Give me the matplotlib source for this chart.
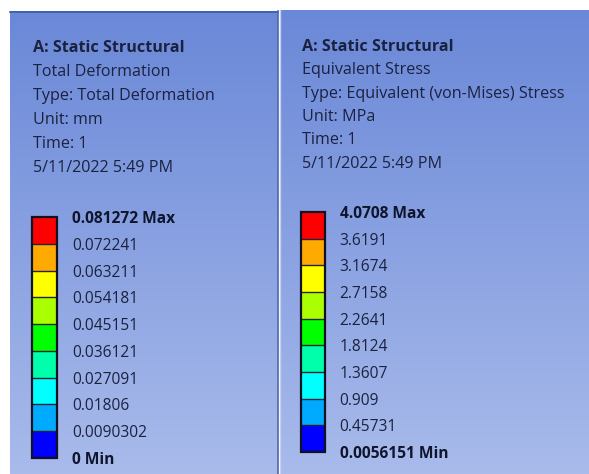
import matplotlib
matplotlib.use("Agg")
import matplotlib.pyplot as plt
from matplotlib.colors import ListedColormap, BoundaryNorm, LinearSegmentedColormap
from matplotlib.cm import ScalarMappable
import numpy as np

plt.rcParams['font.family'] = ['Open Sans', 'DejaVu Sans']

W, H = 589, 474

# header lines for each result panel
deform_header = ["A: Static Structural", "Total Deformation", "Type: Total Deformation",
                 "Unit: mm", "Time: 1", "5/11/2022 5:49 PM"]
stress_header = ["A: Static Structural", "Equivalent Stress",
                 "Type: Equivalent (von-Mises) Stress", "Unit: MPa", "Time: 1",
                 "5/11/2022 5:49 PM"]

# contour levels, min to max
deform_levels = [0, 0.0090302, 0.01806, 0.027091, 0.036121, 0.045151,
                 0.054181, 0.063211, 0.072241, 0.081272]
deform_labels = ["0 Min", "0.0090302", "0.01806", "0.027091", "0.036121", "0.045151",
                 "0.054181", "0.063211", "0.072241", "0.081272 Max"]
stress_levels = [0.0056151, 0.45731, 0.909, 1.3607, 1.8124, 2.2641,
                 2.7158, 3.1674, 3.6191, 4.0708]
stress_labels = ["0.0056151 Min", "0.45731", "0.909", "1.3607", "1.8124", "2.2641",
                 "2.7158", "3.1674", "3.6191", "4.0708 Max"]

# ansys legend colours, low band to high band
band_colors = ["#0000ff", "#00aaff", "#00ffff", "#00ffaa", "#00ff00",
               "#aaff00", "#ffff00", "#ffaa00", "#ff0000"]

text_color = "#1b2240"

fig = plt.figure(figsize=(W / 100, H / 100), dpi=100)
fig.patch.set_facecolor("white")

bg = fig.add_axes([0, 0, 1, 1])
bg.set_xlim(0, W)
bg.set_ylim(H, 0)
bg.axis("off")

grad = LinearSegmentedColormap.from_list("bg", ["#6a88d8", "#a9bbeb"])
ramp = np.linspace(0, 1, 256).reshape(-1, 1)
bg.imshow(ramp, cmap=grad, aspect="auto", extent=(10, 278, H, 11), zorder=0)
bg.imshow(ramp, cmap=grad, aspect="auto", extent=(281, W, H, 10), zorder=0)
bg.plot([10, 278], [11.5, 11.5], color="#3d5aa8", lw=1.2, zorder=1)
bg.plot([278, 278], [11, H], color="#4f68ad", lw=1.2, zorder=1)
bg.plot([280, 280], [10, H], color="#c3cff2", lw=1.0, zorder=1)


def header(x, y0, step, lines):
    for i, s in enumerate(lines):
        bg.text(x, y0 + i * step, s, fontsize=11.6, color=text_color,
                fontweight="bold" if i == 0 else "normal", va="center", ha="left")


header(33, 48, 24, deform_header)
header(302, 47, 23.3, stress_header)


def legend(rect, levels, labels, pad):
    cax = fig.add_axes(rect)
    norm = BoundaryNorm(levels, len(band_colors))
    sm = ScalarMappable(norm=norm, cmap=ListedColormap(band_colors))
    cb = fig.colorbar(sm, cax=cax, boundaries=levels, ticks=levels,
                      drawedges=True, spacing="uniform")
    cb.outline.set_linewidth(1.6)
    cb.outline.set_edgecolor("#111122")
    cb.dividers.set_color("#222233")
    cb.dividers.set_linewidth(1.0)
    cb.set_ticklabels(labels)
    cax.tick_params(length=0, pad=pad, labelsize=11.2, labelcolor=text_color)
    tl = cax.get_yticklabels()
    tl[0].set_fontweight("bold")
    tl[-1].set_fontweight("bold")
    tl[0].set_color("#10152e")
    tl[-1].set_color("#10152e")


legend([32 / W, (H - 458) / H, 25 / W, 241 / H], deform_levels, deform_labels, 11)
legend([301 / W, (H - 452) / H, 24 / W, 240 / H], stress_levels, stress_labels, 10.5)

fig.savefig("out.png", dpi=100)
